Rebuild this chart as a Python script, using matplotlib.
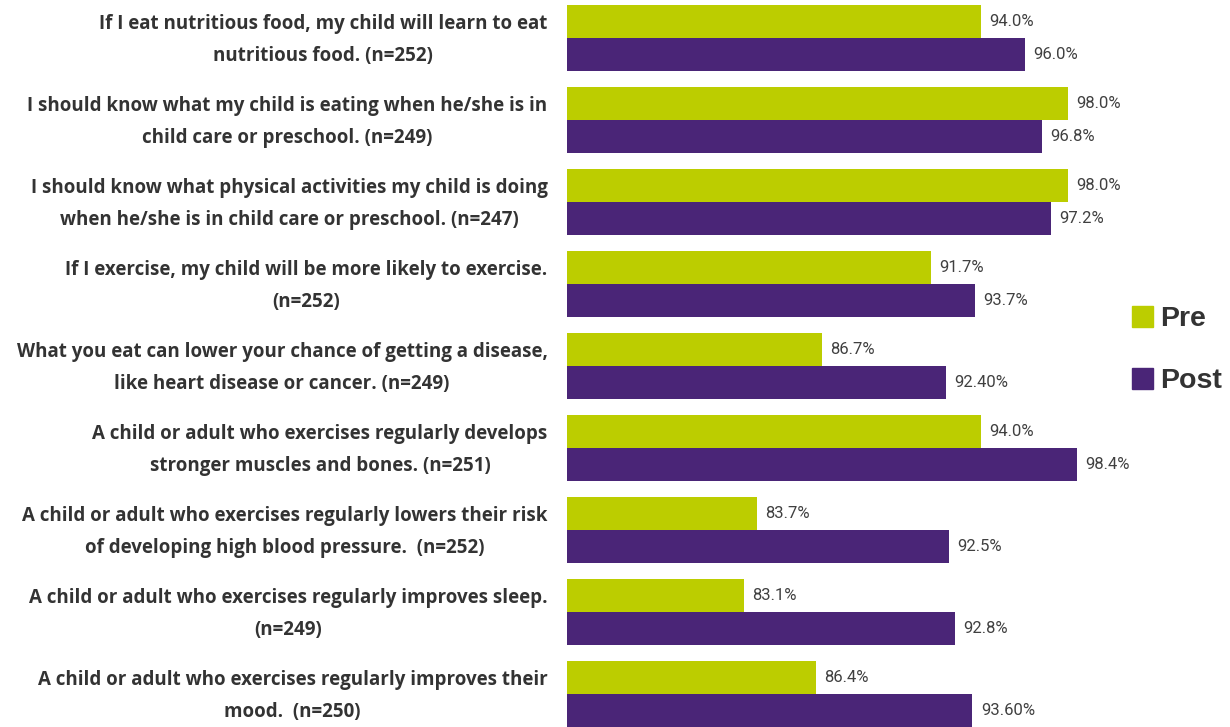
import matplotlib
matplotlib.use("Agg")
import matplotlib.pyplot as plt
import numpy as np
from matplotlib.patches import Patch

# Survey statements and percent agreeing, before and after the program
statements = [
    "If I eat nutritious food, my child will learn to eat\nnutritious food. (n=252)",
    "I should know what my child is eating when he/she is in\nchild care or preschool. (n=249)",
    "I should know what physical activities my child is doing\nwhen he/she is in child care or preschool. (n=247)",
    "If I exercise, my child will be more likely to exercise.\n(n=252)",
    "What you eat can lower your chance of getting a disease,\nlike heart disease or cancer. (n=249)",
    "A child or adult who exercises regularly develops\nstronger muscles and bones. (n=251)",
    "A child or adult who exercises regularly lowers their risk\nof developing high blood pressure.  (n=252)",
    "A child or adult who exercises regularly improves sleep.\n(n=249)",
    "A child or adult who exercises regularly improves their\nmood.  (n=250)",
]
pre = [94.0, 98.0, 98.0, 91.7, 86.7, 94.0, 83.7, 83.1, 86.4]
post = [96.0, 96.8, 97.2, 93.7, 92.4, 98.4, 92.5, 92.8, 93.6]
pre_labels = ["94.0%", "98.0%", "98.0%", "91.7%", "86.7%", "94.0%", "83.7%", "83.1%", "86.4%"]
post_labels = ["96.0%", "96.8%", "97.2%", "93.7%", "92.40%", "98.4%", "92.5%", "92.8%", "93.60%"]

green = "#bccd00"
purple = "#4a2577"
value_font = ["Roboto", "DejaVu Sans"]

fig = plt.figure(figsize=(12.3, 7.27), dpi=100)
ax = fig.add_axes([567 / 1230, 0, 553 / 1230, 1])

y = np.arange(len(statements))
h = 0.4
ax.barh(y - h / 2, pre, height=h, left=0, color=green)
ax.barh(y + h / 2, post, height=h, left=0, color=purple)

ax.set_xlim(75, 75 + 553 / 21.8)
ax.set_ylim(8.404, -0.461)

for i in range(len(statements)):
    ax.text(pre[i] + 0.38, y[i] - h / 2, pre_labels[i], va="center", ha="left",
            fontsize=12, color="#404040", family=value_font)
    ax.text(post[i] + 0.38, y[i] + h / 2, post_labels[i], va="center", ha="left",
            fontsize=12, color="#404040", family=value_font)

# statement labels, nudged down a touch to sit on the bar pair
ax.set_yticks(y + 0.03)
ax.set_yticklabels(statements, fontsize=13.5, fontweight="bold", color="#333333",
                   family=["Open Sans", "DejaVu Sans"], va="center")
for lab in ax.get_yticklabels():
    lab.set_multialignment("center")
    lab.set_linespacing(1.82)
ax.tick_params(axis="y", length=0, pad=14)
ax.tick_params(axis="x", bottom=False, labelbottom=False)
for s in ax.spines.values():
    s.set_visible(False)

handles = [Patch(color=green, label="Pre"), Patch(color=purple, label="Post")]
fig.legend(handles=handles, loc="center left", bbox_to_anchor=(1132 / 1230, 1 - 350 / 727),
           frameon=False, handlelength=0.75, handleheight=0.75, handletextpad=0.25,
           labelspacing=1.25, borderpad=0, borderaxespad=0,
           prop={"size": 20.5, "weight": "bold", "family": "Liberation Sans"},
           labelcolor="#333333")

fig.savefig("out.png", dpi=100)
